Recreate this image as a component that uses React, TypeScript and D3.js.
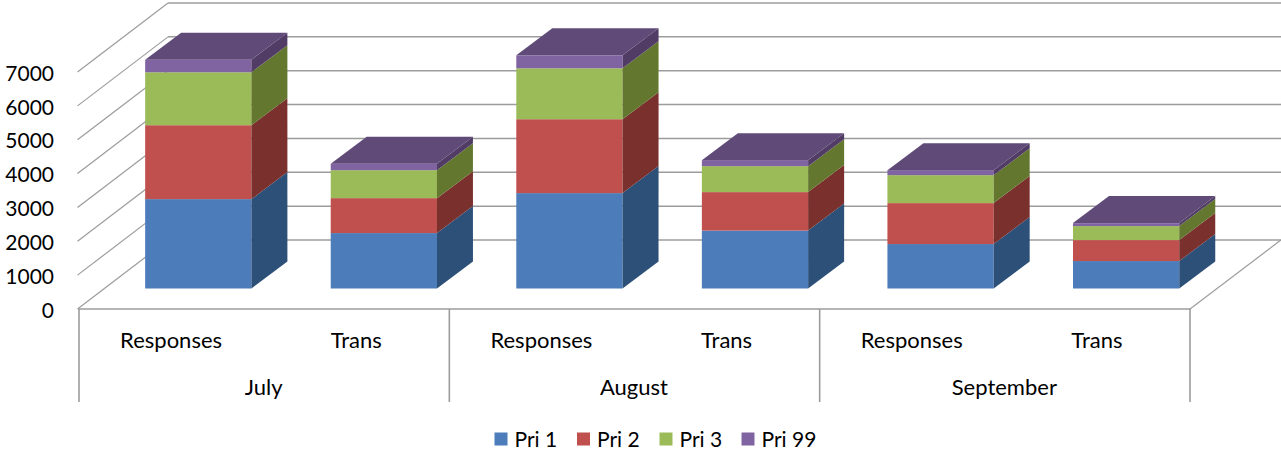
import { useRef, useEffect } from "react";
import * as d3 from "d3";

const months = ["July", "August", "September"];
const measures = ["Responses", "Trans"];
const seriesNames = ["Pri 1", "Pri 2", "Pri 3", "Pri 99"];
const pri1 = [2640, 1637, 2817, 1711, 1313, 811];
const pri2 = [2183, 1032, 2183, 1136, 1209, 619];
const pri3 = [1563, 826, 1504, 767, 826, 413];
const pri99 = [369, 190, 383, 177, 147, 88];
const yTicks = [0, 1000, 2000, 3000, 4000, 5000, 6000, 7000];

const frontColors = ["#4c7dba", "#c0504d", "#9bbb59", "#8064a2"];
const sideColors = ["#2d5079", "#7a302d", "#63772f", "#513c66"];
const topColor = "#5f4a78";
const lineColor = "#9c9c9c";
const font = "Lato, 'Open Sans', sans-serif";

const width = 1281;
const height = 452;

export default function App() {
  const svgRef = useRef<SVGSVGElement>(null);

  useEffect(() => {
    if (!svgRef.current) return;
    const svg = d3.select(svgRef.current);
    svg.selectAll("*").remove();

    const floorY = 309;
    const left = 79;
    const right = 1190;
    // Depth of the 3D box and of one bar
    const depthX = 90;
    const depthY = 69;
    const barDepthX = 36;
    const barDepthY = 27;
    const barOffsetX = 26.5;
    const barOffsetY = 20.5;

    const categories = months.flatMap((m) => measures.map((c) => `${m}|${c}`));
    const x = d3
      .scaleBand<string>()
      .domain(categories)
      .range([left, right])
      .paddingInner(0.4275)
      .paddingOuter(0.21375);
    // Bars stand mid-depth, perspective spreads them a little wider than the labels
    const xBars = d3
      .scaleBand<string>()
      .domain(categories)
      .range([left + barOffsetX, right + barOffsetX + 2.4])
      .paddingInner(0.4275)
      .paddingOuter(0.21375);
    const step = x.step();
    const y = d3.scaleLinear().domain([0, 7000]).range([floorY, 72]);

    const rows = categories.map((key, i) => ({
      key,
      "Pri 1": pri1[i],
      "Pri 2": pri2[i],
      "Pri 3": pri3[i],
      "Pri 99": pri99[i],
    }));
    const stacked = d3.stack<any>().keys(seriesNames)(rows);

    // Back wall grid
    svg
      .append("g")
      .selectAll("line")
      .data(yTicks)
      .join("line")
      .attr("x1", left + depthX - 1)
      .attr("x2", width)
      .attr("y1", (d) => y(d) - depthY)
      .attr("y2", (d) => y(d) - depthY)
      .attr("stroke", lineColor)
      .attr("stroke-width", 1.5);

    // Side wall grid
    svg
      .append("g")
      .selectAll("line")
      .data(yTicks)
      .join("line")
      .attr("x1", left - 1.5)
      .attr("x2", left + depthX - 1)
      .attr("y1", (d) => y(d))
      .attr("y2", (d) => y(d) - depthY)
      .attr("stroke", lineColor)
      .attr("stroke-width", 1.2);

    // Floor right edge
    svg
      .append("line")
      .attr("x1", right)
      .attr("x2", right + depthX + 1)
      .attr("y1", floorY)
      .attr("y2", floorY - depthY)
      .attr("stroke", lineColor)
      .attr("stroke-width", 1.2);

    // Bars
    const bars = svg.append("g");
    stacked.forEach((layer, s) => {
      layer.forEach((d, i) => {
        const x0 = xBars(categories[i])!;
        const x1 = x0 + xBars.bandwidth();
        const yBottom = y(d[0]) - barOffsetY;
        const yTop = y(d[1]) - barOffsetY;
        bars
          .append("rect")
          .attr("x", x0)
          .attr("y", yTop)
          .attr("width", x1 - x0)
          .attr("height", yBottom - yTop)
          .attr("fill", frontColors[s]);
        bars
          .append("polygon")
          .attr(
            "points",
            [
              [x1, yBottom],
              [x1 + barDepthX, yBottom - barDepthY],
              [x1 + barDepthX, yTop - barDepthY],
              [x1, yTop],
            ].join(" "),
          )
          .attr("fill", sideColors[s]);
        if (s === stacked.length - 1) {
          bars
            .append("polygon")
            .attr(
              "points",
              [
                [x0, yTop],
                [x1, yTop],
                [x1 + barDepthX, yTop - barDepthY],
                [x0 + barDepthX, yTop - barDepthY],
              ].join(" "),
            )
            .attr("fill", topColor);
        }
      });
    });

    // Y axis labels
    svg
      .append("g")
      .attr("transform", `translate(57,1.5)`)
      .call(d3.axisLeft(y).tickValues(yTicks).tickSize(0).tickPadding(3).tickFormat(d3.format("d")))
      .call((g) => g.select(".domain").remove())
      .selectAll("text")
      .attr("fill", "#000")
      .attr("font-size", 21)
      .attr("font-family", font);

    // Floor front edge and multi-level category axis
    svg
      .append("line")
      .attr("x1", left - 1)
      .attr("x2", right + 1)
      .attr("y1", floorY)
      .attr("y2", floorY)
      .attr("stroke", lineColor)
      .attr("stroke-width", 1.6);

    svg
      .append("g")
      .selectAll("line")
      .data(d3.range(months.length + 1))
      .join("line")
      .attr("x1", (i) => left + i * step * measures.length)
      .attr("x2", (i) => left + i * step * measures.length)
      .attr("y1", floorY)
      .attr("y2", 402)
      .attr("stroke", lineColor)
      .attr("stroke-width", 1.6);

    svg
      .append("g")
      .selectAll("text")
      .data(categories)
      .join("text")
      .attr("x", (d) => x(d)! + x.bandwidth() / 2 - 0.5)
      .attr("y", 348)
      .attr("text-anchor", "middle")
      .attr("font-size", 22)
      .attr("font-family", font)
      .text((d) => d.split("|")[1]);

    svg
      .append("g")
      .selectAll("text")
      .data(months)
      .join("text")
      .attr("x", (_, i) => left + (i + 0.5) * step * measures.length - 0.5)
      .attr("y", 395)
      .attr("text-anchor", "middle")
      .attr("font-size", 22)
      .attr("font-family", font)
      .text((d) => d);

    // Legend
    const legendX = [494.5, 577, 659.5, 741.5];
    const legend = svg
      .append("g")
      .selectAll("g")
      .data(seriesNames)
      .join("g")
      .attr("transform", (_, i) => `translate(${legendX[i]},432.5)`);
    legend
      .append("rect")
      .attr("width", 13)
      .attr("height", 13)
      .attr("fill", (_, i) => frontColors[i]);
    legend
      .append("text")
      .attr("x", 20)
      .attr("y", 14)
      .attr("font-size", 21)
      .attr("font-family", font)
      .text((d) => d);
  }, []);

  return (
    <svg
      ref={svgRef}
      width={width}
      height={height}
      style={{ position: "absolute", left: 0, top: 0, background: "#fff" }}
    />
  );
}
